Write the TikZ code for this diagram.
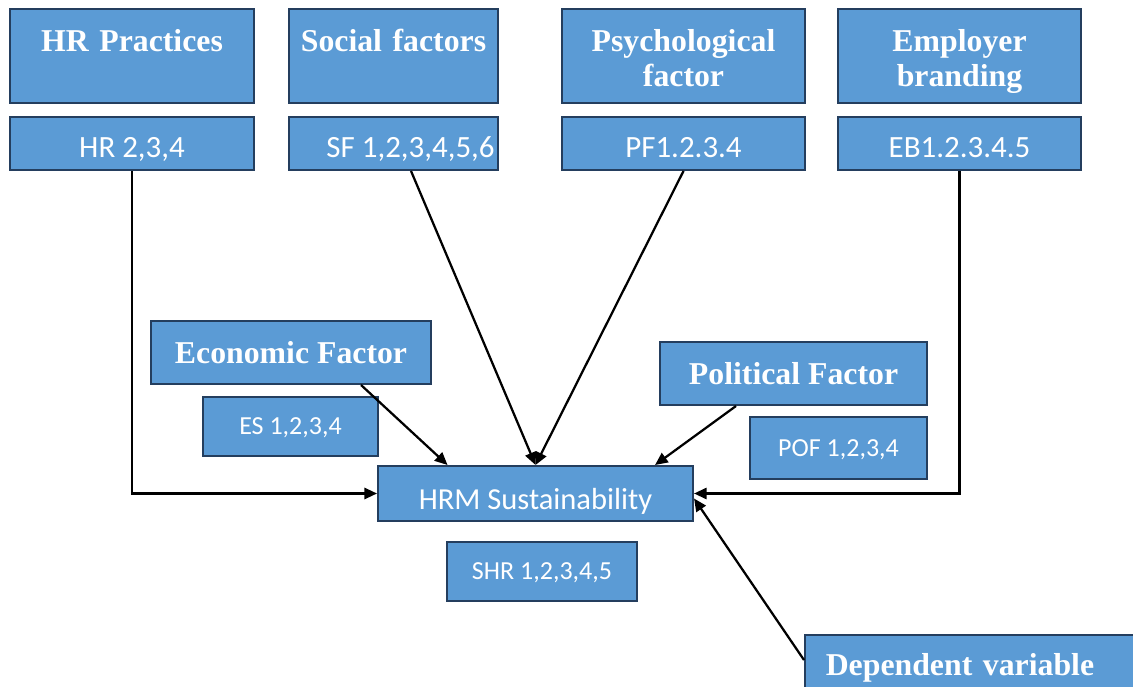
\documentclass[tikz,border=0pt]{standalone}
\usepackage{fontspec}
\setmainfont{Liberation Serif}
\newfontfamily\codefont{Carlito}
\usepackage{tikz}
\usetikzlibrary{arrows.meta, calc}

\definecolor{boxblue}{RGB}{91,155,213}
\definecolor{boxline}{RGB}{36,62,94}

\begin{document}
\begin{tikzpicture}[x=0.025cm, y=-0.025cm, >={Triangle[length=9pt, width=8pt]},
    box/.style={rectangle, draw=boxline, line width=1.4pt, fill=boxblue, text=white, inner sep=0pt, anchor=north west},
    title/.style={box, font=\bfseries\fontsize{22.6}{25}\selectfont},
    toptitle/.style={title, align=center, text height=1.07cm},
    code/.style={box, font=\codefont\fontsize{22}{24}\selectfont, text height=20pt, text depth=0pt},
    smallcode/.style={box, font=\codefont\fontsize{18.5}{20}\selectfont, text height=12pt, text depth=0pt},
    link/.style={->, line width=1.6pt}]
    \clip (0,0) rectangle (1133,686);

    % factors
    \node[toptitle, text width=6.1cm, text depth=1.28cm] (hrp) at (9,8) {HR Practices};
    \node[toptitle, text width=5.225cm, text depth=1.28cm] (sof) at (288,8) {Social factors};
    \node[toptitle, text width=6.075cm, text depth=1.28cm] (psy) at (561,8) {Psychological\\factor};
    \node[toptitle, text width=6.075cm, text depth=1.28cm] (emp) at (837,8) {Employer\\branding};

    \node[code, minimum width=6.1cm, minimum height=1.325cm] (hrc) at (9,116) {HR 2,3,4};
    \node[code, minimum width=5.225cm, minimum height=1.325cm] (sfc) at (288,116) {\hspace*{0.85cm}SF 1,2,3,4,5,6};
    \node[code, minimum width=6.075cm, minimum height=1.325cm] (pfc) at (561,116) {PF1.2.3.4};
    \node[code, minimum width=6.075cm, minimum height=1.325cm] (ebc) at (837,116) {EB1.2.3.4.5};

    \node[title, minimum width=7cm, minimum height=1.575cm] (eco) at (150,320) {Economic Factor};
    \node[smallcode, minimum width=4.375cm, minimum height=1.475cm] (esc) at (202,396) {ES 1,2,3,4};
    \node[title, minimum width=6.675cm, minimum height=1.575cm] (pol) at (659,341) {Political Factor};
    \node[smallcode, minimum width=4.425cm, minimum height=1.55cm] (pofc) at (749,416) {POF 1,2,3,4};

    % dependent
    \node[box, font=\codefont\fontsize{21.7}{23}\selectfont, text height=23pt, text depth=0pt,
          minimum width=7.875cm, minimum height=1.375cm] (hrm) at (377,465) {HRM Sustainability};
    \node[smallcode, minimum width=4.75cm, minimum height=1.475cm] (shr) at (446,541) {SHR 1,2,3,4,5};
    \node[title, align=left, text width=8.5cm, text height=1.0cm, text depth=0.8cm] (dep) at (804,634)
      {\hspace*{0.52cm}Dependent variable};

    \draw[link] (hrc.south) |- (hrm.west);
    \draw[link] (ebc.south) |- (hrm.east);
    \draw[link] ($(sfc.south)+(17.5,0)$) -- (hrm.north);
    \draw[link] (pfc.south) -- (hrm.north);
    \draw[link] ($(eco.south)+(70,0)$) -- ($(hrm.north)+(-88,0)$);
    \draw[link] ($(pol.south)+(-57.5,0)$) -- ($(hrm.north)+(119.5,0)$);
    \draw[link] ($(dep.north west)+(0,26)$) -- ($(hrm.east)+(0,5)$);

\end{tikzpicture}
\end{document}
